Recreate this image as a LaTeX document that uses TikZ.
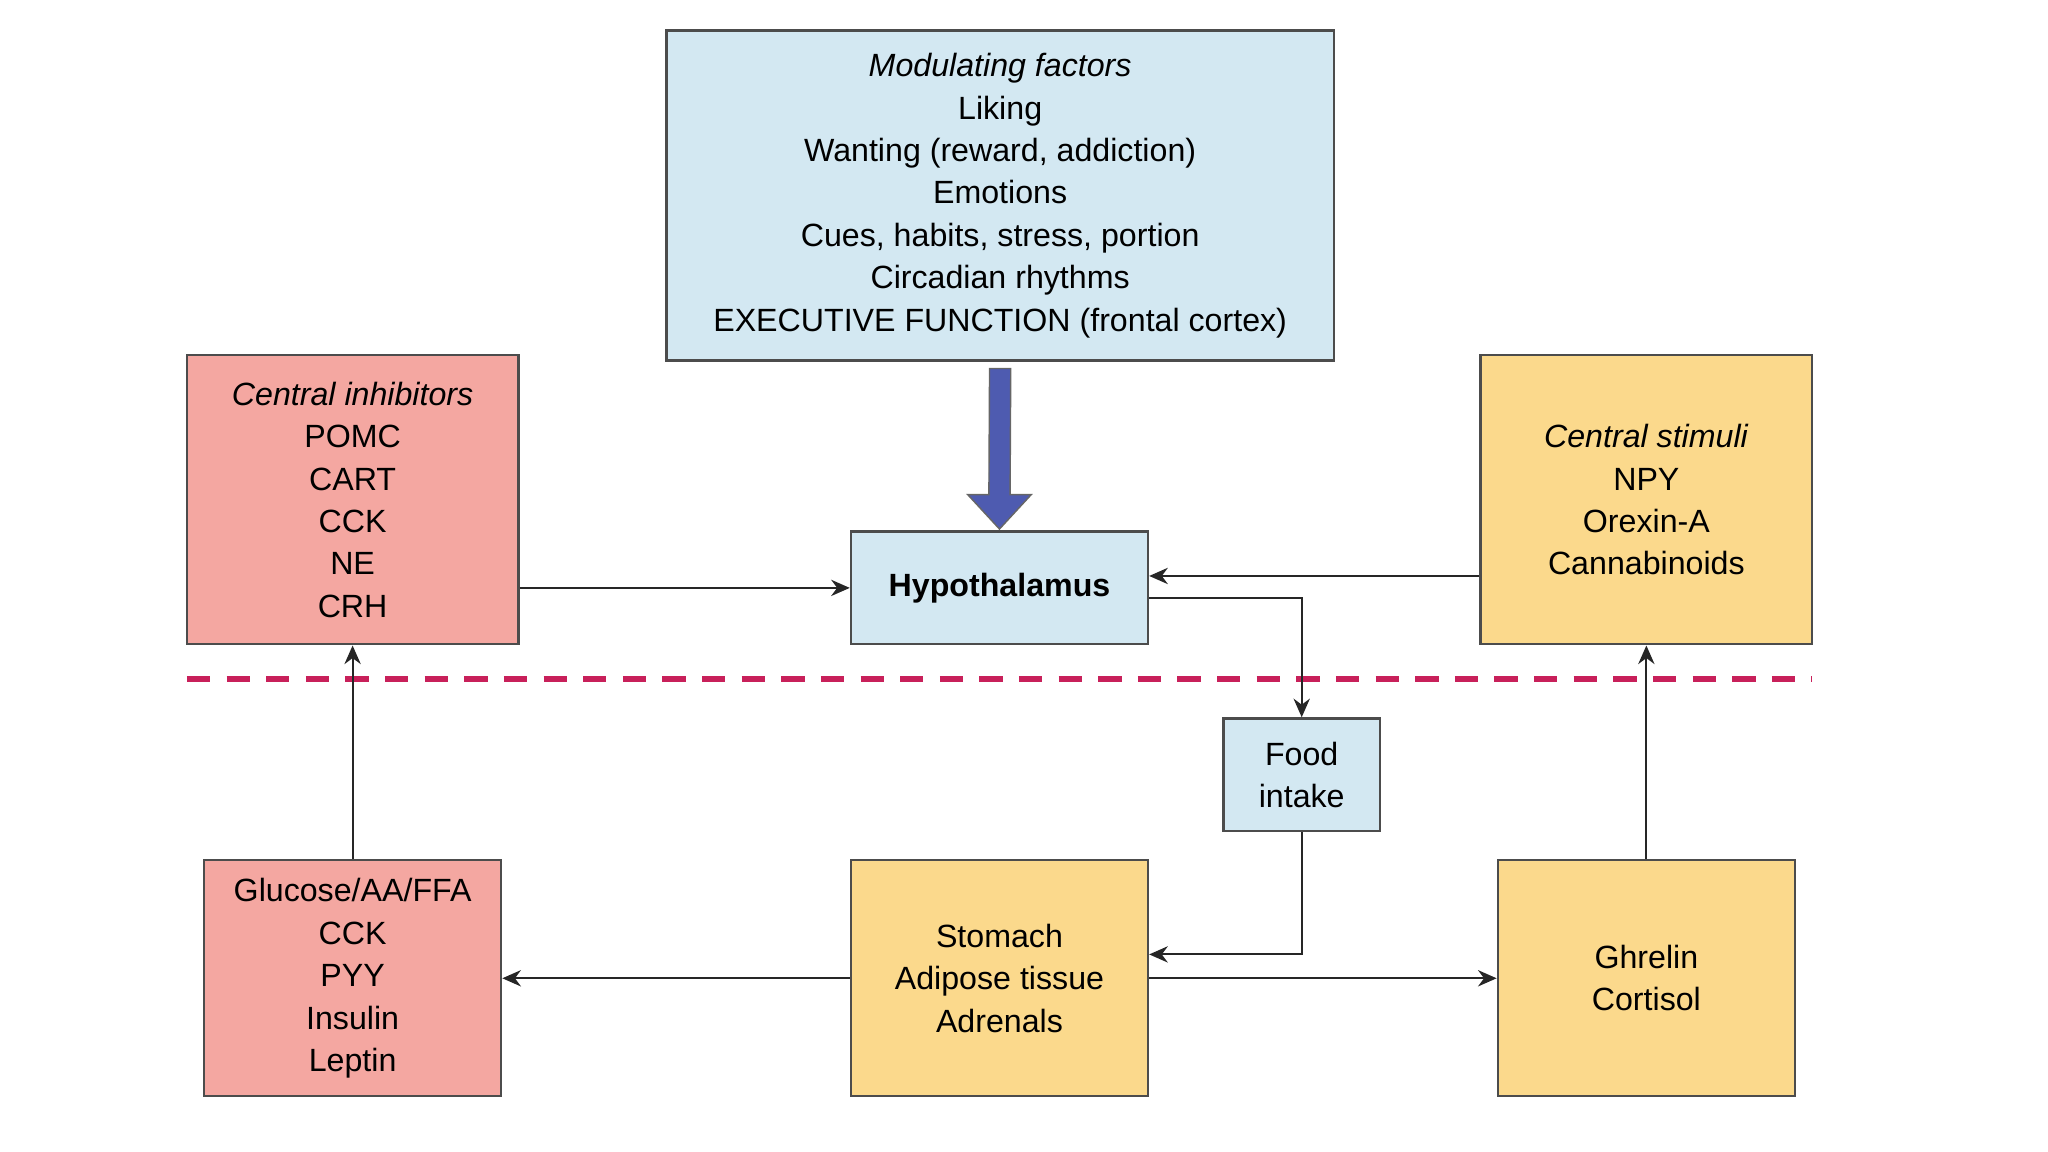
\documentclass[tikz,border=0pt]{standalone}
\usepackage{fontspec}
\setmainfont{Liberation Sans}
\usetikzlibrary{arrows.meta, calc}
\definecolor{bluebox}{HTML}{D3E8F2}
\definecolor{redbox}{HTML}{F4A7A1}
\definecolor{yelbox}{HTML}{FBD98C}
\definecolor{dashred}{HTML}{C8205A}
\definecolor{bigarrow}{HTML}{4E5BB0}
\begin{document}
\begin{tikzpicture}[x=0.01cm, y=-0.01cm,
  box/.style={draw=black!70, line width=0.5pt, align=center, inner sep=0pt,
    font=\fontsize{6.9}{9.1}\selectfont},
  conn/.style={-{Stealth[length=4pt,width=3.5pt]}, line width=0.4pt, black!85}]
\useasboundingbox (0,0) rectangle (1545,869);
% boxes
\node[box, fill=bluebox, minimum width=503\pgflinewidth*0+5.03cm, minimum height=2.49cm] (mod) at (754.5,147.5)
 {\textit{Modulating factors}\\Liking\\Wanting (reward, addiction)\\Emotions\\Cues, habits, stress, portion\\Circadian rhythms\\EXECUTIVE FUNCTION (frontal cortex)};
\node[box, fill=redbox, minimum width=2.5cm, minimum height=2.18cm] (inh) at (266,377)
 {\textit{Central inhibitors}\\POMC\\CART\\CCK\\NE\\CRH};
\node[box, fill=bluebox, minimum width=2.24cm, minimum height=0.85cm, font=\fontsize{6.9}{9.1}\selectfont\bfseries] (hyp) at (754,443.5) {Hypothalamus};
\node[box, fill=yelbox, minimum width=2.5cm, minimum height=2.18cm] (stim) at (1242,377)
 {\textit{Central stimuli}\\NPY\\Orexin-A\\Cannabinoids};
\node[box, fill=bluebox, minimum width=1.18cm, minimum height=0.85cm] (food) at (982,584.5) {Food\\intake};
\node[box, fill=redbox, minimum width=2.24cm, minimum height=1.78cm] (glu) at (266,738)
 {Glucose/AA/FFA\\CCK\\PYY\\Insulin\\Leptin};
\node[box, fill=yelbox, minimum width=2.24cm, minimum height=1.78cm] (sto) at (754,738)
 {Stomach\\Adipose tissue\\Adrenals};
\node[box, fill=yelbox, minimum width=2.24cm, minimum height=1.78cm] (ghr) at (1242,738)
 {Ghrelin\\Cortisol};
% dashed divider
\coordinate (dl) at (141,512);
\coordinate (dr) at (1367,512);
\draw[dashred, line width=1.3pt, dash pattern=on 5pt off 3.5pt] (dl) -- (dr);
% big arrow
\draw[bigarrow, fill=bigarrow, draw=black!60, line width=0.3pt]
 ($(mod.south)+(-8,5)$) -- ($(mod.south)+(8,5)$) -- ($(hyp.north)+(8,-27)$) -- ($(hyp.north)+(24,-27)$)
 -- ($(hyp.north)+(0,-1)$) -- ($(hyp.north)+(-24,-27)$) -- ($(hyp.north)+(-8,-27)$) -- cycle;
% connectors
\draw[conn] (inh.east |- hyp.center) -- (hyp.west);
\draw[conn] ([yshift=0.09cm]stim.west |- hyp.center) -- ([yshift=0.09cm]hyp.east);
\draw[conn] ([yshift=-0.075cm]hyp.east) -| (food.north);
\draw[conn] (food.south) |- ([yshift=0.18cm]sto.east);
\draw[conn] (sto.west) -- (glu.east);
\draw[conn] (sto.east) -- (ghr.west);
\draw[conn] (glu.north) -- (inh.south);
\draw[conn] (ghr.north) -- (stim.south);
\end{tikzpicture}
\end{document}
